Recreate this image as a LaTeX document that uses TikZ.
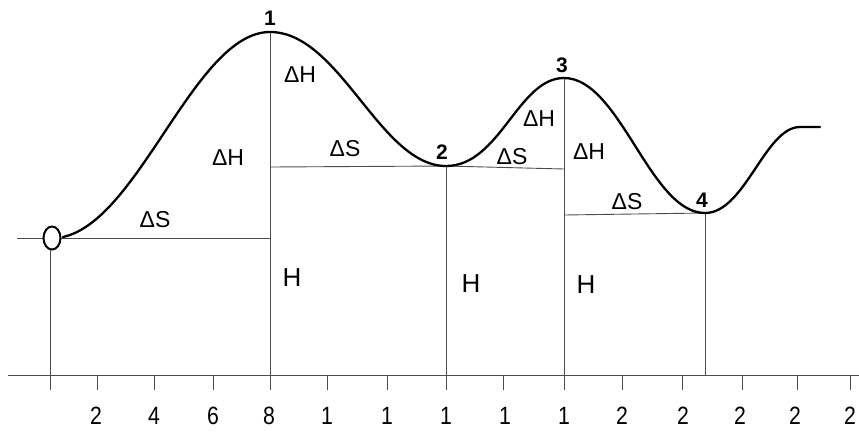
\documentclass[tikz,border=0pt]{standalone}
\usepackage{fontspec}
\setmainfont{Liberation Sans}
\usetikzlibrary{shapes.geometric}
\begin{document}
\begin{tikzpicture}[x=1pt,y=-1pt,
  thin line/.style={line width=0.9pt, draw=black!70},
  curve/.style={line width=2.3pt, line cap=round},
  lbl/.style={font=\fontsize{23}{23}\selectfont, inner sep=0pt},
  hlbl/.style={font=\fontsize{26}{26}\selectfont, inner sep=0pt},
  num/.style={font=\bfseries\fontsize{21}{21}\selectfont, inner sep=0pt},
  tick/.style={font=\fontsize{25}{25}\selectfont, inner sep=0pt}]
\useasboundingbox (0,0) rectangle (859,432);
% key points
\coordinate (p0) at (50,238);
\coordinate (p1) at (270,32);
\coordinate (p2) at (446,166);
\coordinate (p3) at (564,78);
\coordinate (p4) at (705,213);
\coordinate (pe) at (820,127);
% axis
\coordinate (axl) at (8,375);
\coordinate (axr) at (859,375);
\draw[thin line] (axl) -- (axr);
% vertical lines
\coordinate (b0) at (50,390);
\coordinate (b1) at (270,390);
\coordinate (b2) at (446,390);
\coordinate (b3) at (564,390);
\coordinate (b4) at (705,375);
\draw[thin line] (p0) -- (b0);
\draw[thin line] (p1) -- (b1);
\draw[thin line] (p2) -- (b2);
\draw[thin line] (p3) -- (b3);
\draw[thin line] (p4) -- (b4);
% horizontal lines
\coordinate (h0) at (17,238);
\coordinate (h1) at (270,238);
\coordinate (h2a) at (270,167);
\coordinate (h2b) at (564,169);
\coordinate (h4) at (564,215);
\draw[thin line] (h0) -- (h1);
\draw[thin line] (h2a) -- (p2) -- (h2b);
\draw[thin line] (h4) -- (p4);
% ticks and labels
\foreach \x in {97,154,213,327,387,503,622,682,742,797,850}{
  \draw[thin line] (\x,375) -- (\x,390);
}
\foreach \x/\t in {96/2,154/4,213/6,269/8,327/1,387/1,446/1,505/1,564/1,622/2,683/2,740/2,795/2,850/2}{
  \node[tick] at (\x,416) {\scalebox{0.85}[1]{\t}};
}
% curve
\draw[curve] (63,237) .. controls (140,220) and (195,32) .. (p1)
  .. controls (340,32) and (380,166) .. (p2)
  .. controls (500,166) and (518,78) .. (p3)
  .. controls (620,78) and (650,213) .. (p4)
  .. controls (745,213) and (765,127) .. (800,127) -- (pe);
% start circle
\node[draw, line width=2pt, fill=white, ellipse, minimum width=17pt, minimum height=23pt, inner sep=0pt] (c0) at (52,238) {};
% numbers
\node[num] (n1) at (270,18) {1};
\node[num] (n2) at (442,152) {2};
\node[num] (n3) at (562,65) {3};
\node[num] (n4) at (702,200) {4};
% labels
\node[lbl] (dh1) at (300,75) {ΔH};
\node[lbl] (dh2) at (228,158) {ΔH};
\node[lbl] (ds1) at (345,149) {ΔS};
\node[lbl] (ds0) at (155,220) {ΔS};
\node[lbl] (dh3) at (539,119) {ΔH};
\node[lbl] (ds2) at (512,157) {ΔS};
\node[lbl] (dh4) at (589,152) {ΔH};
\node[lbl] (ds3) at (627,202) {ΔS};
\node[hlbl] (H1) at (292,278) {H};
\node[hlbl] (H2) at (471,284) {H};
\node[hlbl] (H3) at (586,285) {H};
\end{tikzpicture}
\end{document}
